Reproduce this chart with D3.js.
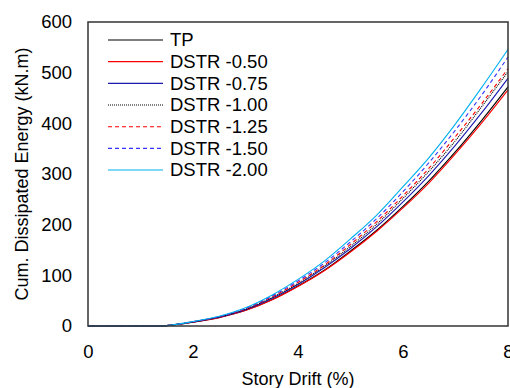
<html><head>
<title>Cum. Dissipated Energy</title>
<script src="https://d3js.org/d3.v7.min.js"></script>
<style>
  body { margin: 0; background: white; }
  svg text { font-family: "Liberation Sans", Arial, sans-serif; fill: #000; }
</style>
</head>
<body>
<svg id="chart" width="510" height="388"></svg>
<script>

// story drift (%) where values were read
let drift = [0, 0.5, 1, 1.4, 1.5, 2, 2.5, 3, 3.5, 4, 4.5, 5, 5.5, 6, 6.5, 7, 7.5, 8];

// cumulative dissipated energy (kN.m)
let tp      = [0, 0, 0, 0, 0.8, 7.8, 17.0, 31.0, 52.0, 79, 110, 148, 189, 236, 287, 344, 406, 472];
let dstr050 = [0, 0, 0, 0, 0.8, 7.6, 16.6, 30.5, 51.3, 78, 109, 146, 187, 233, 283, 340, 401, 466];
let dstr075 = [0, 0, 0, 0, 0.8, 8.0, 17.5, 32.2, 54.3, 82, 115, 153, 196, 245, 298, 357, 421, 489];
let dstr100 = [0, 0, 0, 0, 0.8, 8.2, 17.9, 33.1, 55.9, 84, 118, 157, 201, 252, 306, 366, 433, 502];
let dstr125 = [0, 0, 0, 0, 0.8, 8.3, 18.2, 33.8, 57.2, 86, 120, 161, 206, 257, 312, 374, 439, 508];
let dstr150 = [0, 0, 0, 0, 0.8, 8.6, 18.8, 34.8, 58.9, 89, 124, 166, 212, 265, 323, 387, 456, 531];
let dstr200 = [0, 0, 0, 0, 0.8, 8.8, 19.4, 36.0, 60.9, 92, 128, 172, 219, 275, 333, 399, 471, 546];

let seriesNames = ["TP", "DSTR -0.50", "DSTR -0.75", "DSTR -1.00", "DSTR -1.25", "DSTR -1.50", "DSTR -2.00"];
let seriesValues = [tp, dstr050, dstr075, dstr100, dstr125, dstr150, dstr200];

let xTicks = [0, 2, 4, 6, 8];
let yTicks = [0, 100, 200, 300, 400, 500, 600];

// line look per series (same order as names)
let colors = ["#000000", "#ff0000", "#1a1ab0", "#000000", "#ff0000", "#3333ff", "#00b0f0"];
let dashes = [null, null, null, "1,1", "4,3", "4,3", null];

let svg = d3.select("#chart");
let plotL = 88, plotR = 508, plotT = 22, plotB = 326;

let x = d3.scaleLinear().domain([0, 8]).range([plotL, plotR]);
let y = d3.scaleLinear().domain([0, 600]).range([plotB, plotT]);

// tick labels
svg.append("g")
  .attr("transform", "translate(0," + plotB + ")")
  .call(d3.axisBottom(x).tickValues(xTicks).tickSize(0).tickPadding(19))
  .call(g => g.select(".domain").remove())
  .selectAll("text")
  .style("font-size", "18.5px");

svg.append("g")
  .attr("transform", "translate(" + plotL + ",0)")
  .call(d3.axisLeft(y).tickValues(yTicks).tickSize(0).tickPadding(16))
  .call(g => g.select(".domain").remove())
  .selectAll("text")
  .style("font-size", "18.5px");

// series lines (smoothed like the spreadsheet chart)
let line = d3.line()
  .x((d, i) => x(drift[i]))
  .y(d => y(d))
  .curve(d3.curveMonotoneX);

seriesValues.forEach((vals, i) => {
  svg.append("path")
    .datum(vals)
    .attr("d", line)
    .attr("fill", "none")
    .attr("stroke", colors[i])
    .attr("stroke-width", 1.1)
    .attr("stroke-dasharray", dashes[i]);
});

// plot frame
svg.append("rect")
  .attr("x", plotL)
  .attr("y", plotT)
  .attr("width", plotR - plotL)
  .attr("height", plotB - plotT)
  .attr("fill", "none")
  .attr("stroke", "#333")
  .attr("stroke-width", 1.5);

// legend
let legend = svg.append("g");
seriesNames.forEach((name, i) => {
  let ly = 40 + i * 21.67;
  legend.append("line")
    .attr("x1", 108).attr("x2", 163)
    .attr("y1", ly).attr("y2", ly)
    .attr("stroke", colors[i])
    .attr("stroke-width", 1.1)
    .attr("stroke-dasharray", dashes[i]);
  legend.append("text")
    .attr("x", 170)
    .attr("y", ly)
    .attr("dy", "0.35em")
    .style("font-size", "18.5px")
    .text(name);
});

// axis titles
svg.append("text")
  .attr("x", (plotL + plotR) / 2)
  .attr("y", 385)
  .attr("text-anchor", "middle")
  .style("font-size", "18px")
  .text("Story Drift (%)");

svg.append("text")
  .attr("transform", "translate(28," + (plotT + plotB) / 2 + ") rotate(-90)")
  .attr("text-anchor", "middle")
  .style("font-size", "18px")
  .text("Cum. Dissipated Energy (kN.m)");

</script>
</body>
</html>
